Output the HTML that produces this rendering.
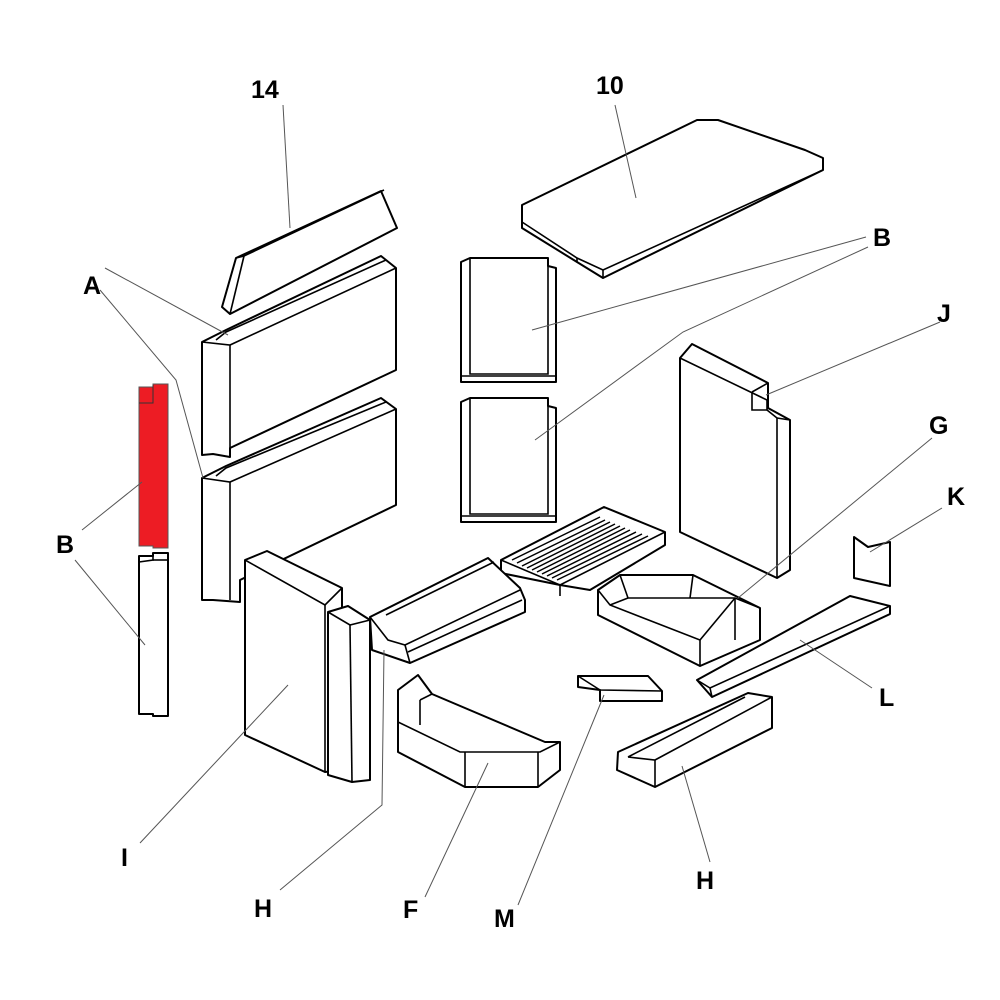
<!DOCTYPE html>
<html><head><meta charset="utf-8"><style>
html,body{margin:0;padding:0;background:#fff}
svg{display:block}
text{font-family:"Liberation Sans",sans-serif;font-weight:bold;font-size:25px;fill:#000}
.p{fill:#fff;stroke:#000;stroke-width:2;stroke-linejoin:round}
.l{fill:none;stroke:#000;stroke-width:1.6}
.t{fill:none;stroke:#555;stroke-width:1}
</style></head><body>
<svg width="1000" height="1000" viewBox="0 0 1000 1000">
<!-- 14 -->
<polygon class="p" points="222,307 236,258 381,191 397,228 230,314"/>
<polyline class="l" points="236,258 244,256 384,190"/>
<line class="l" x1="244" y1="256" x2="230" y2="314"/>
<!-- A upper -->
<polygon class="p" points="202,342 226,330 381,256 396,268 396,370 230,448 230,457 213,454 202,455"/>
<polyline class="l" points="202,342 230,345 396,268"/>
<line class="l" x1="230" y1="345" x2="230" y2="448"/>
<polyline class="l" points="216,340 226,332 386,260"/>
<!-- A lower -->
<polygon class="p" points="202,478 226,466 381,398 396,409 396,505 240,580 240,602 213,600 202,600"/>
<polyline class="l" points="202,478 230,482 396,409"/>
<line class="l" x1="230" y1="482" x2="230" y2="600"/>
<polyline class="l" points="216,476 226,468 386,402"/>
<!-- red B -->
<polygon points="139,387 153,387 153,384 168,384 168,548 153,548 153,546 139,546" fill="#ed1c24" stroke="#555" stroke-width="1"/>
<polyline points="139,403 153,403 153,385" fill="none" stroke="#333" stroke-width="1"/>
<!-- white B -->
<polygon class="p" points="139,556 153,556 153,553 168,553 168,716 153,716 153,714 139,714"/>
<polyline class="l" points="139,562 153,560 153,554"/>
<line class="l" x1="153" y1="560" x2="168" y2="560"/>
<!-- center B pieces -->
<polygon class="p" points="461,262 470,258 548,258 548,266 556,268 556,382 461,382"/>
<polyline class="l" points="470,258 470,374 548,374 548,266"/>
<line class="l" x1="461" y1="376" x2="556" y2="376"/>
<polygon class="p" points="461,402 470,398 548,398 548,406 556,408 556,522 461,522"/>
<polyline class="l" points="470,398 470,514 548,514 548,406"/>
<line class="l" x1="461" y1="516" x2="556" y2="516"/>
<!-- 10 -->
<polygon class="p" points="522,205 697,120 718,120 805,150 823,158 823,170 603,278 577,262 522,228"/>
<polyline class="l" points="522,222 577,258 603,270 823,170"/>
<line class="l" x1="577" y1="258" x2="577" y2="262"/>
<line class="l" x1="603" y1="270" x2="603" y2="278"/>
<!-- J -->
<polygon class="p" points="680,358 692,344 768,383 768,408 790,420 790,570 777,578 680,532"/>
<polyline class="l" points="680,358 767,400 767,410 777,418 777,578"/>
<line class="l" x1="777" y1="418" x2="790" y2="420"/>
<line class="l" x1="752" y1="392" x2="768" y2="383"/>
<polyline class="l" points="752,392 752,410 767,410"/>
<!-- grate -->
<polygon class="p" points="501,560 604,507 665,532 665,545 590,590 560,585 501,573"/>
<polyline class="l" points="501,560 560,585 665,532"/>
<line class="l" x1="560" y1="585" x2="560" y2="596"/>
<g stroke="#000" stroke-width="1.5">
<line x1="512" y1="560" x2="600" y2="517"/><line x1="517" y1="563" x2="605" y2="520"/>
<line x1="522" y1="566" x2="610" y2="522"/><line x1="527" y1="568" x2="615" y2="524"/>
<line x1="532" y1="570" x2="620" y2="526"/><line x1="537" y1="572" x2="625" y2="528"/>
<line x1="542" y1="574" x2="630" y2="530"/><line x1="547" y1="576" x2="636" y2="532"/>
<line x1="552" y1="578" x2="642" y2="534"/><line x1="557" y1="580" x2="648" y2="536"/>
</g>
<!-- G -->
<polygon class="p" points="598,590 620,575 693,575 760,608 760,640 700,666 598,615"/>
<polyline class="l" points="620,575 628,598 735,598 760,608"/>
<polyline class="l" points="598,590 610,605 700,640 700,666"/>
<line class="l" x1="628" y1="598" x2="610" y2="605"/>
<line class="l" x1="700" y1="640" x2="735" y2="598"/>
<line class="l" x1="693" y1="575" x2="690" y2="598"/>
<line class="l" x1="735" y1="598" x2="735" y2="640"/>
<!-- K -->
<polygon class="p" points="854,537 868,547 890,542 890,586 854,578"/>
<!-- L -->
<polygon class="p" points="697,680 850,596 890,606 890,614 712,697"/>
<polyline class="l" points="697,680 710,688 890,606"/>
<line class="l" x1="710" y1="688" x2="712" y2="697"/>
<!-- M -->
<polygon class="p" points="578,676 648,676 662,691 662,701 600,701 600,690 578,687"/>
<polyline class="l" points="578,676 600,690 662,691"/>
<!-- H right -->
<polygon class="p" points="618,752 748,693 772,697 772,728 655,787 617,770"/>
<polyline class="l" points="628,757 655,760 772,697"/>
<line class="l" x1="655" y1="760" x2="655" y2="787"/>
<line class="l" x1="628" y1="757" x2="745" y2="697"/>
<!-- F -->
<polygon class="p" points="398,690 418,675 432,694 545,742 560,742 560,770 538,787 465,787 398,752"/>
<polyline class="l" points="398,690 398,722 460,752 540,752 560,742"/>
<line class="l" x1="420" y1="700" x2="432" y2="694"/>
<line class="l" x1="420" y1="700" x2="420" y2="725"/>
<line class="l" x1="465" y1="752" x2="465" y2="787"/>
<line class="l" x1="538" y1="752" x2="538" y2="787"/>
<!-- H left -->
<polygon class="p" points="370,617 488,558 520,588 525,600 525,612 410,663 372,650"/>
<polyline class="l" points="370,617 388,640 405,645 520,590"/>
<line class="l" x1="405" y1="645" x2="410" y2="663"/>
<line class="l" x1="408" y1="652" x2="522" y2="600"/>
<line class="l" x1="386" y1="615" x2="494" y2="562"/>
<!-- I -->
<polygon class="p" points="245,560 267,551 342,588 342,770 325,772 245,735"/>
<polyline class="l" points="245,560 325,605 342,588"/>
<line class="l" x1="325" y1="605" x2="325" y2="772"/>
<!-- thin piece -->
<polygon class="p" points="328,612 348,606 370,620 370,780 352,782 328,775"/>
<polyline class="l" points="328,612 350,625 370,620"/>
<line class="l" x1="350" y1="625" x2="352" y2="782"/>
<!-- leaders -->
<g class="t">
<line x1="283" y1="105" x2="290" y2="228"/>
<line x1="615" y1="105" x2="636" y2="198"/>
<line x1="105" y1="268" x2="228" y2="335"/>
<polyline points="100,290 176,380 203,478"/>
<line x1="866" y1="237" x2="532" y2="330"/>
<polyline points="868,247 683,332 535,440"/>
<line x1="940" y1="322" x2="766" y2="395"/>
<line x1="932" y1="438" x2="738" y2="598"/>
<line x1="942" y1="508" x2="870" y2="552"/>
<line x1="872" y1="688" x2="800" y2="640"/>
<line x1="82" y1="530" x2="142" y2="482"/>
<line x1="75" y1="560" x2="145" y2="645"/>
<line x1="140" y1="843" x2="288" y2="685"/>
<polyline points="280,890 382,805 384,650"/>
<line x1="425" y1="897" x2="488" y2="763"/>
<line x1="518" y1="905" x2="604" y2="695"/>
<line x1="710" y1="862" x2="682" y2="766"/>
</g>
<!-- labels -->
<text x="251" y="98">14</text>
<text x="596" y="94">10</text>
<text x="83" y="294">A</text>
<text x="873" y="246">B</text>
<text x="937" y="322">J</text>
<text x="929" y="434">G</text>
<text x="947" y="505">K</text>
<text x="56" y="553">B</text>
<text x="879" y="706">L</text>
<text x="121" y="866">I</text>
<text x="254" y="917">H</text>
<text x="403" y="918">F</text>
<text x="494" y="927">M</text>
<text x="696" y="889">H</text>
</svg>
</body></html>
